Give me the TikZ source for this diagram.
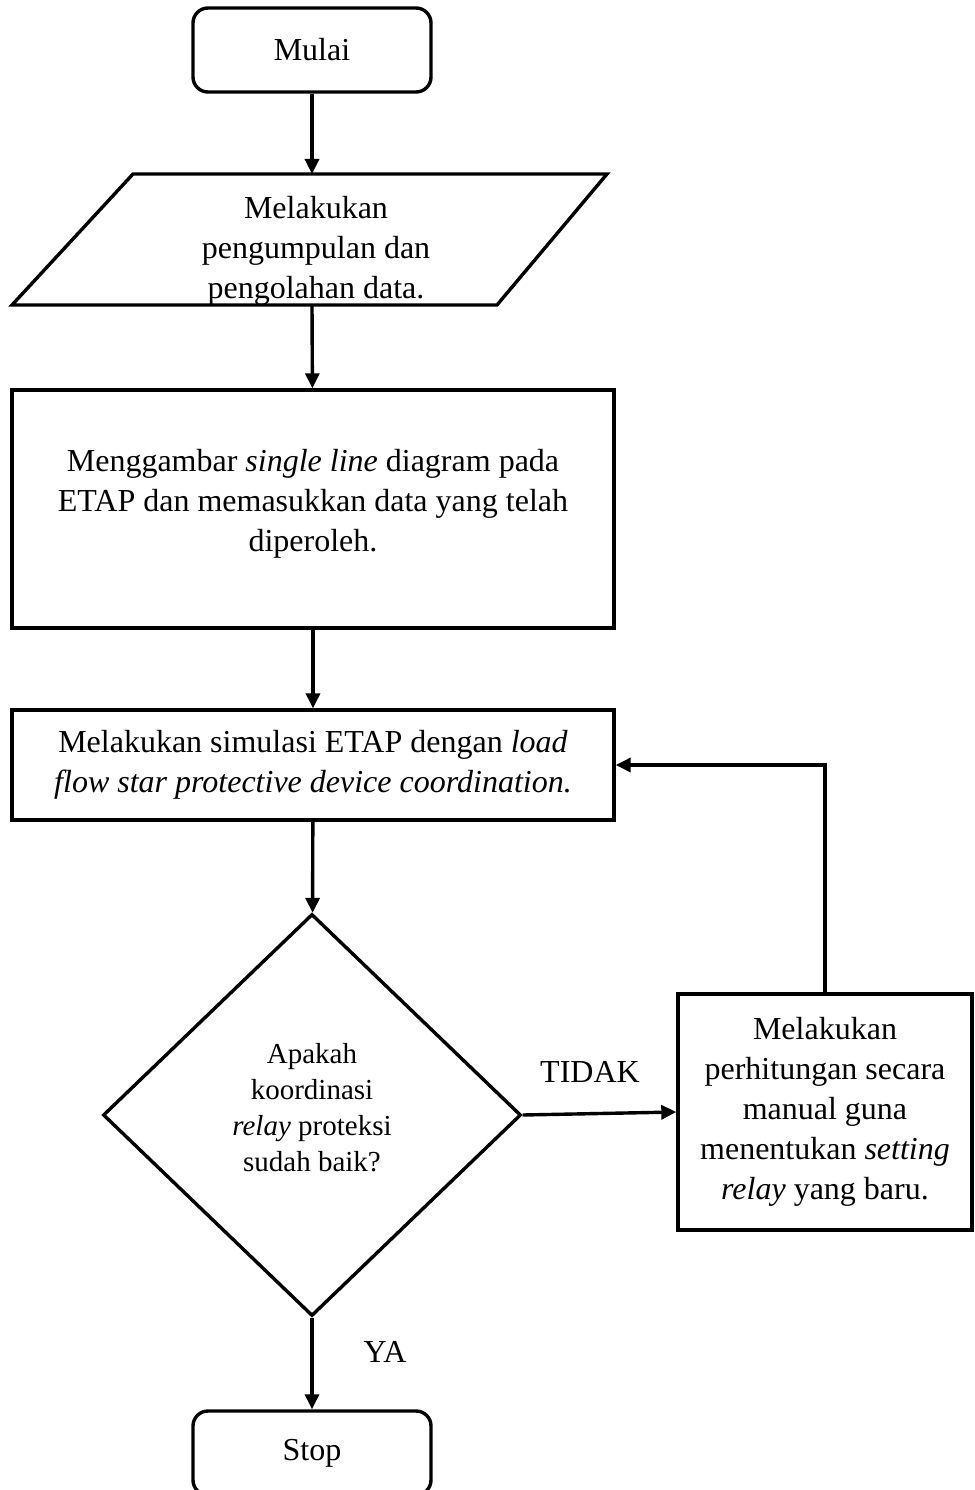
\documentclass[tikz,border=0pt]{standalone}
\usepackage{fontspec}
\setmainfont{Liberation Serif}
\usetikzlibrary{shapes.geometric,arrows.meta,positioning}

\tikzset{
  box/.style={draw, line width=3.4pt, align=center, fill=white,
    font=\fontsize{32}{40}\selectfont},
  terminal/.style={box, rectangle, rounded corners=15pt,
    minimum width=238pt, minimum height=84pt},
  process/.style={box, rectangle},
  decision/.style={box, diamond, minimum width=418pt, minimum height=402pt,
    font=\fontsize{29}{36}\selectfont},
  flow/.style={line width=3.4pt, -{Triangle[length=15pt,width=14pt]}},
  lbl/.style={align=center, font=\fontsize{32}{40}\selectfont}
}

\begin{document}
\begin{tikzpicture}[x=1pt, y=-1pt]
    \useasboundingbox (0,0) rectangle (974,1490);

    % Start
    \node[terminal] (mulai) at (312,50) {Mulai};

    % Data collection (parallelogram)
    \draw[line width=3.4pt] (133,174) -- (607,174) -- (497,305) -- (12,305) -- cycle;
    \coordinate (datain) at (312,174);
    \coordinate (dataout) at (312,305);
    \node[lbl] (datatxt) at (316,251) {Melakukan\\pengumpulan dan\\pengolahan data.};

    % ETAP steps
    \node[process, minimum width=602pt, minimum height=238pt] (sld) at (313,509)
      {Menggambar \textit{single line} diagram pada\\ETAP dan memasukkan data yang telah\\diperoleh.\\[-22pt]};
    \node[process, minimum width=602pt, minimum height=110pt] (sim) at (313,765)
      {Melakukan simulasi ETAP dengan \textit{load}\\\textit{flow star protective device coordination.}};

    % Check
    \node[decision] (cek) at (312,1115)
      {Apakah\\koordinasi\\\textit{relay} proteksi\\sudah baik?\\[-20pt]};

    % Manual calculation
    \node[process, minimum width=294pt, minimum height=236pt] (manual) at (825,1112)
      {Melakukan\\perhitungan secara\\manual guna\\menentukan \textit{setting}\\\textit{relay} yang baru.};

    % End
    \node[terminal] (stop) at (312,1453) {Stop};

    % Connectors
    \draw[flow] (mulai) -- (datain);
    \draw[flow] (dataout) -- (sld);
    \draw[flow] (sld) -- (sim);
    \draw[flow] (sim) -- (cek);
    \draw[flow] (cek.east) -- (manual.west);
    \draw[flow] (manual.north) |- (sim.east);
    \draw[flow] (cek.south) -- (stop);

    % Branch labels
    \node[lbl] (tidak) at (590,1072) {TIDAK};
    \node[lbl] (ya) at (385,1352) {YA};
\end{tikzpicture}
\end{document}
